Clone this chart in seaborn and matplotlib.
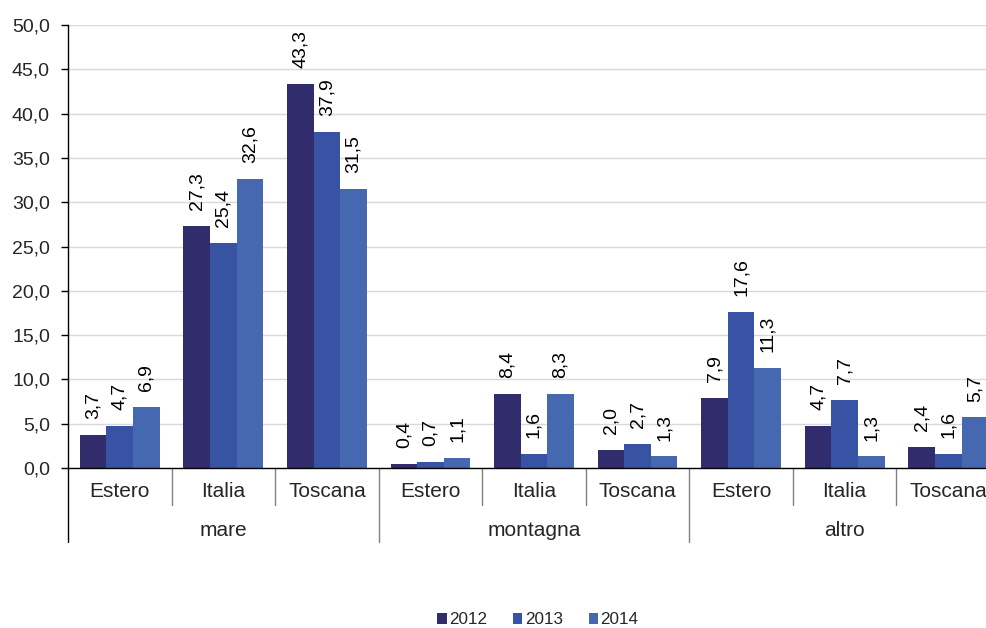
import matplotlib
matplotlib.use("Agg")
import matplotlib.pyplot as plt
from matplotlib.patches import Patch
import seaborn as sns
import pandas as pd

groups = ["mare", "montagna", "altro"]
origins = ["Estero", "Italia", "Toscana"]
years = ["2012", "2013", "2014"]

v2012 = [3.7, 27.3, 43.3, 0.4, 8.4, 2.0, 7.9, 4.7, 2.4]
v2013 = [4.7, 25.4, 37.9, 0.7, 1.6, 2.7, 17.6, 7.7, 1.6]
v2014 = [6.9, 32.6, 31.5, 1.1, 8.3, 1.3, 11.3, 1.3, 5.7]

colors = ["#312D6D", "#3853A4", "#4568B1"]

sns.set_theme(style="white")
plt.rcParams["font.family"] = ["Liberation Sans", "DejaVu Sans"]

keys = [f"{g}|{o}" for g in groups for o in origins]
rows = []
for yr, vals in zip(years, [v2012, v2013, v2014]):
    for k, v in zip(keys, vals):
        rows.append({"key": k, "year": yr, "value": v})
df = pd.DataFrame(rows)

fig = plt.figure(figsize=(9.86, 6.28), dpi=100)
ax = fig.add_axes([68 / 986, 1 - 468 / 628, 932 / 986, 443 / 628])

sns.barplot(data=df, x="key", y="value", hue="year", order=keys,
            hue_order=years, palette=colors, saturation=1, width=0.77,
            linewidth=0, errorbar=None, legend=False, ax=ax)

def fmt(v):
    return f"{v:.1f}".replace(".", ",")

for cont in ax.containers:
    ax.bar_label(cont, labels=[fmt(b.get_height()) for b in cont],
                 rotation=90, padding=11.5, fontsize=14, color="#000000")

ax.set_xlim(-0.5, 8.5)
ax.set_ylim(0, 50)
yt = [i * 5 for i in range(11)]
ax.set_yticks(yt)
ax.set_yticklabels([fmt(t) for t in yt], fontsize=14)
ax.yaxis.grid(True, color="#D9D9D9", linewidth=1)
ax.set_axisbelow(True)
ax.tick_params(axis="y", which="major", length=5, width=1, color="#000000",
               left=True, pad=8)
ax.set_xticks([])
ax.set_xlabel("")
ax.set_ylabel("")
for s in ["top", "right"]:
    ax.spines[s].set_visible(False)
for s in ["left", "bottom"]:
    ax.spines[s].set_color("#000000")
    ax.spines[s].set_linewidth(1)

tr = ax.get_xaxis_transform()
for i, k in enumerate(keys):
    ax.text(i, -0.054, k.split("|")[1], transform=tr, ha="center",
            va="center", fontsize=15, clip_on=False)
for j, g in enumerate(groups):
    ax.text(3 * j + 1, -0.14, g, transform=tr, ha="center", va="center",
            fontsize=15, clip_on=False)
for b in range(10):
    x = b - 0.5
    low = -0.167 if b % 3 == 0 else -0.0835
    ax.plot([x, x], [0, low], transform=tr, color="#808080" if b else "#000000",
            linewidth=1, clip_on=False)

handles = [Patch(facecolor=c, edgecolor="none") for c in colors]
fig.legend(handles, years, loc="center", bbox_to_anchor=(538 / 986, 1 - 620 / 628),
           ncol=3, frameon=False, fontsize=12.3, handlelength=0.55,
           handleheight=0.55, handletextpad=0.15, columnspacing=1.5)

fig.savefig("out.png", dpi=100)
